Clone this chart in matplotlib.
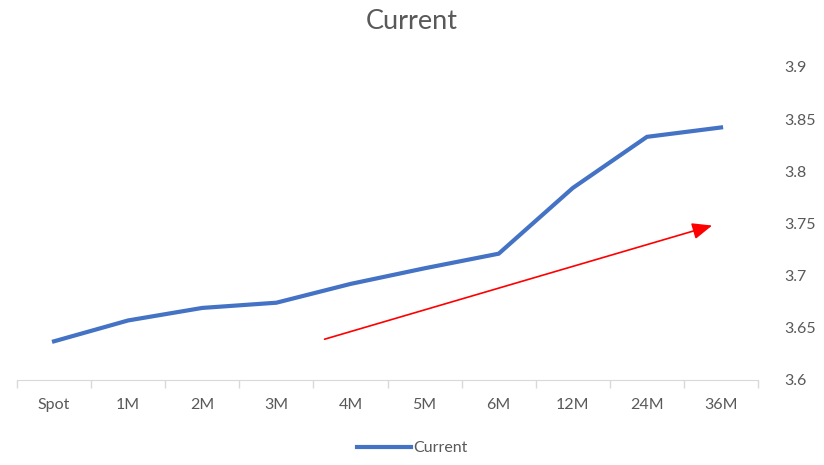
import numpy as np
import matplotlib
matplotlib.use("Agg")
import matplotlib.pyplot as plt

plt.rcParams['font.family'] = ['Lato', 'DejaVu Sans']

# Data
tenors = ["Spot", "1M", "2M", "3M", "4M", "5M", "6M", "12M", "24M", "36M"]
current = [3.637, 3.657, 3.669, 3.674, 3.692, 3.707, 3.721, 3.784, 3.833, 3.842]
yticks = [3.6, 3.65, 3.7, 3.75, 3.8, 3.85, 3.9]
ytick_labels = ["3.6", "3.65", "3.7", "3.75", "3.8", "3.85", "3.9"]

# red trend arrow (category index, value)
arrow_start = (3.65, 3.639)
arrow_end = (8.88, 3.748)

fig = plt.figure(figsize=(8.24, 4.65), dpi=100)
ax = fig.add_axes([0.0206, 0.183, 0.8994, 0.673])

x = np.arange(len(tenors))
line, = ax.plot(x, current, color='#4472C4', linewidth=3.0,
                solid_joinstyle='miter', label='Current')

ax.annotate('', xy=arrow_end, xytext=arrow_start,
            arrowprops=dict(arrowstyle='-|>,head_length=1.2,head_width=0.5',
                            color='red', lw=1.2, shrinkA=0, shrinkB=0))

ax.set_xlim(-0.5, len(tenors) - 0.5)
ax.set_ylim(3.6, 3.9)

ax.set_xticks(x)
ax.set_xticklabels(tenors)
ax.set_xticks(np.arange(-0.5, len(tenors), 1.0), minor=True)
ax.tick_params(axis='x', which='major', length=0, pad=13,
               labelsize=11.5, labelcolor='#595959')
ax.tick_params(axis='x', which='minor', length=6, color='#d9d9d9', width=1)

ax.yaxis.tick_right()
ax.set_yticks(yticks)
ax.set_yticklabels(ytick_labels)
ax.tick_params(axis='y', length=0, pad=19, labelsize=11.5, labelcolor='#595959')

for side in ['top', 'left', 'right']:
    ax.spines[side].set_visible(False)
ax.spines['bottom'].set_color('#d9d9d9')

fig.suptitle('Current', x=0.5, y=0.98, fontsize=19.5, color='#595959')

fig.legend(handles=[line], loc='lower center', bbox_to_anchor=(0.5, -0.01),
           frameon=False, fontsize=11.5, labelcolor='#595959',
           handlelength=3.4, handletextpad=0.1)

plt.savefig("out.png", dpi=100)
